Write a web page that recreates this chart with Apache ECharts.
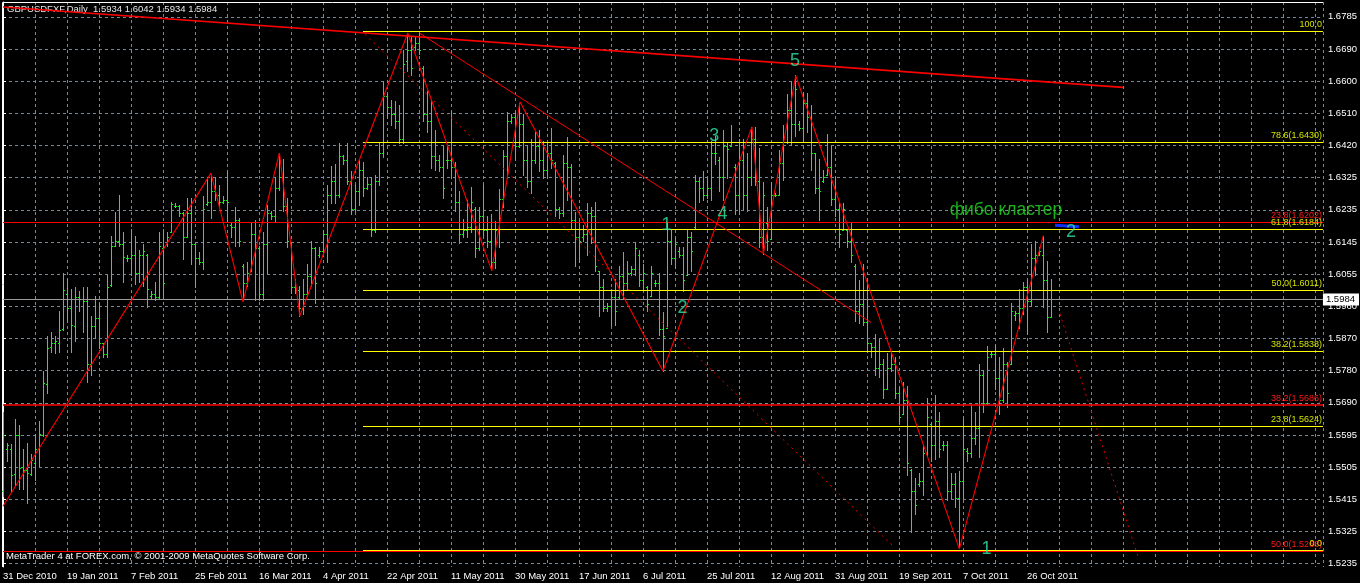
<!DOCTYPE html>
<html><head><meta charset="utf-8">
<script src="https://cdn.jsdelivr.net/npm/echarts@6/dist/echarts.min.js"></script>
<style>html,body{margin:0;padding:0;background:#000;}#c{width:1360px;height:583px;}</style>
</head><body><div id="c"></div>
<script>
// ---------- data ----------
const dateLabels = ['31 Dec 2010','19 Jan 2011','7 Feb 2011','25 Feb 2011','16 Mar 2011','4 Apr 2011','22 Apr 2011','11 May 2011','30 May 2011','17 Jun 2011','6 Jul 2011','25 Jul 2011','12 Aug 2011','31 Aug 2011','19 Sep 2011','7 Oct 2011','26 Oct 2011'];
const priceTickLabels = ['1.5235','1.5325','1.5415','1.5505','1.5595','1.5690','1.5780','1.5870','1.5960','1.6055','1.6145','1.6235','1.6325','1.6420','1.6510','1.6600','1.6690','1.6785'];

const open = [1.5440,1.5560,1.5560,1.5490,1.5600,1.5510,1.5500,1.5490,1.5520,1.5560,1.5600,1.5745,1.5850,1.5860,1.5860,1.5900,1.6000,1.5960,1.5910,1.5990,1.5985,1.5980,1.5800,1.5910,1.5930,1.5860,1.5830,1.6025,1.6135,1.6150,1.6140,1.6100,1.6100,1.6110,1.6060,1.6110,1.6110,1.5995,1.6000,1.5990,1.6130,1.6140,1.6175,1.6250,1.6250,1.6230,1.6160,1.6230,1.6140,1.6100,1.6090,1.6255,1.6260,1.6290,1.6280,1.6260,1.6265,1.6195,1.6190,1.6210,1.6080,1.6030,1.6064,1.6170,1.6130,1.6000,1.6140,
1.6230,1.6220,1.6300,1.6330,1.6250,1.6145,1.6020,1.6010,1.5960,1.6000,1.6050,1.6130,1.6110,1.6120,1.6170,1.6280,1.6320,1.6280,1.6390,1.6380,1.6320,1.6240,1.6290,1.6350,1.6300,1.6310,1.6180,1.6320,1.6400,1.6560,1.6530,1.6510,1.6490,1.6440,1.6660,1.6690,1.6700,1.6710,1.6640,1.6510,1.6490,1.6390,1.6380,1.6360,1.6380,1.6380,1.6360,1.6260,1.6170,1.6180,1.6190,1.6240,1.6130,1.6220,1.6180,1.6150,1.6090,1.6180,1.6270,1.6390,1.6490,1.6500,1.6420,1.6480,1.6380,1.6320,
1.6380,1.6420,1.6380,1.6350,1.6400,1.6370,1.6240,1.6230,1.6370,1.6360,1.6210,1.6160,1.6160,1.6170,1.6230,1.6220,1.6064,1.6020,1.5960,1.5965,1.5990,1.5990,1.6050,1.6030,1.6060,1.6070,1.6110,1.6040,1.6020,1.5993,1.6030,1.6030,1.5900,1.5902,1.6150,1.6100,1.6120,1.6110,1.6054,1.6160,1.6190,1.6320,1.6300,1.6280,1.6300,1.6400,1.6380,1.6330,1.6420,1.6420,1.6360,1.6280,1.6380,1.6280,1.6330,1.6440,1.6320,1.6160,1.6200,1.6155,1.6280,1.6281,1.6370,1.6430,1.6520,1.6480,1.6480,
1.6470,1.6540,1.6500,1.6398,1.6300,1.6320,1.6337,1.6360,1.6270,1.6240,1.6180,1.6180,1.6150,1.6080,1.5950,1.5970,1.5920,1.5860,1.5850,1.5790,1.5800,1.5730,1.5790,1.5800,1.5720,1.5659,1.5700,1.5500,1.5440,1.5460,1.5470,1.5550,1.5630,1.5570,1.5640,1.5570,1.5570,1.5440,1.5460,1.5420,1.5470,1.5555,1.5550,1.5590,1.5620,1.5770,1.5690,1.5830,1.5830,1.5760,1.5700,1.5800,1.5800,1.5940,1.5945,1.5960,1.6020,1.5980,1.6100,1.6110,1.6110,1.6040,1.5934];
const high = [1.5664,1.5578,1.5573,1.5644,1.5629,1.5560,1.5578,1.5547,1.5603,1.5639,1.5780,1.5881,1.5891,1.5881,1.5952,1.6059,1.6043,1.6013,1.6018,1.6008,1.6018,1.6018,1.5937,1.5993,1.5973,1.5861,1.6054,1.6165,1.6231,1.6281,1.6175,1.6109,1.6185,1.6165,1.6124,1.6140,1.6114,1.6008,1.6033,1.6175,1.6185,1.6175,1.6261,1.6256,1.6251,1.6231,1.6271,1.6271,1.6145,1.6119,1.6276,1.6332,1.6337,1.6332,1.6307,1.6276,1.6347,1.6200,1.6246,1.6216,1.6084,1.6089,1.6200,1.6210,1.6135,1.6175,1.6251,
1.6236,1.6332,1.6398,1.6383,1.6271,1.6145,1.6043,1.6023,1.6043,1.6084,1.6150,1.6134,1.6134,1.6180,1.6307,1.6362,1.6367,1.6428,1.6393,1.6428,1.6347,1.6307,1.6383,1.6373,1.6332,1.6332,1.6337,1.6428,1.6600,1.6570,1.6550,1.6545,1.6534,1.6691,1.6740,1.6732,1.6732,1.6740,1.6646,1.6575,1.6545,1.6464,1.6393,1.6418,1.6423,1.6519,1.6373,1.6292,1.6211,1.6266,1.6302,1.6246,1.6246,1.6307,1.6221,1.6226,1.6206,1.6297,1.6408,1.6514,1.6509,1.6514,1.6540,1.6509,1.6423,1.6438,
1.6458,1.6464,1.6433,1.6428,1.6469,1.6373,1.6246,1.6393,1.6443,1.6367,1.6231,1.6206,1.6195,1.6256,1.6246,1.6261,1.6064,1.6043,1.5973,1.6013,1.6043,1.6079,1.6119,1.6094,1.6079,1.6145,1.6124,1.6084,1.6023,1.6079,1.6038,1.6058,1.5947,1.6200,1.6185,1.6160,1.6134,1.6134,1.6185,1.6175,1.6337,1.6332,1.6347,1.6327,1.6433,1.6448,1.6388,1.6464,1.6428,1.6479,1.6367,1.6438,1.6438,1.6398,1.6474,1.6474,1.6413,1.6317,1.6246,1.6317,1.6286,1.6408,1.6479,1.6565,1.6600,1.6620,1.6489,
1.6570,1.6570,1.6534,1.6398,1.6383,1.6352,1.6454,1.6423,1.6332,1.6256,1.6256,1.6185,1.6200,1.6084,1.6038,1.6084,1.6038,1.5861,1.5886,1.5871,1.5816,1.5831,1.5836,1.5821,1.5735,1.5750,1.5740,1.5502,1.5477,1.5492,1.5573,1.5704,1.5633,1.5714,1.5664,1.5583,1.5583,1.5492,1.5492,1.5497,1.5649,1.5563,1.5684,1.5664,1.5800,1.5785,1.5851,1.5836,1.5856,1.5821,1.5846,1.5806,1.5973,1.5952,1.6013,1.6033,1.6043,1.6140,1.6150,1.6134,1.6165,1.6094,1.6042];
const low = [1.5426,1.5527,1.5441,1.5456,1.5446,1.5446,1.5406,1.5487,1.5471,1.5512,1.5598,1.5719,1.5836,1.5831,1.5836,1.5897,1.5922,1.5836,1.5866,1.5952,1.5892,1.5750,1.5770,1.5876,1.5846,1.5821,1.5821,1.6023,1.6135,1.6135,1.6033,1.6094,1.6054,1.6028,1.6033,1.6023,1.5962,1.5988,1.5983,1.5988,1.5988,1.6135,1.6175,1.6246,1.6221,1.6099,1.6160,1.6084,1.6018,1.6084,1.6069,1.6251,1.6216,1.6266,1.6246,1.6256,1.6205,1.6160,1.6135,1.6135,1.5983,1.6023,1.6064,1.5983,1.5983,1.5983,1.6058,
1.6211,1.6206,1.6295,1.6236,1.6134,1.6003,1.6003,1.5937,1.5942,1.5993,1.6023,1.5973,1.6104,1.6114,1.6089,1.6256,1.6256,1.6275,1.6367,1.6312,1.6226,1.6236,1.6251,1.6277,1.6297,1.6165,1.6175,1.6307,1.6388,1.6499,1.6479,1.6469,1.6428,1.6428,1.6631,1.6620,1.6691,1.6681,1.6489,1.6458,1.6357,1.6352,1.6347,1.6271,1.6357,1.6327,1.6236,1.6145,1.6160,1.6160,1.6175,1.6104,1.6125,1.6165,1.6134,1.6069,1.6074,1.6134,1.6246,1.6327,1.6484,1.6378,1.6415,1.6337,1.6302,1.6287,
1.6372,1.6347,1.6327,1.6327,1.6357,1.6221,1.6216,1.6221,1.6266,1.6185,1.6079,1.6089,1.6150,1.6109,1.6145,1.6064,1.5937,1.5952,1.5952,1.5912,1.5912,1.5988,1.5988,1.6013,1.6054,1.6054,1.6023,1.6013,1.5952,1.5993,1.6023,1.5882,1.5780,1.5902,1.6084,1.6074,1.6104,1.6008,1.6054,1.6064,1.6185,1.6261,1.6266,1.6271,1.6266,1.6367,1.6292,1.6266,1.6327,1.6418,1.6226,1.6226,1.6241,1.6236,1.6307,1.6307,1.6134,1.6114,1.6124,1.6155,1.6276,1.6281,1.6322,1.6428,1.6423,1.6448,1.6464,
1.6433,1.6458,1.6352,1.6287,1.6210,1.6317,1.6337,1.6251,1.6221,1.6134,1.6180,1.6134,1.6089,1.5922,1.5917,1.5912,1.5841,1.5821,1.5770,1.5765,1.5704,1.5729,1.5780,1.5704,1.5633,1.5659,1.5486,1.5325,1.5375,1.5456,1.5431,1.5542,1.5527,1.5532,1.5537,1.5557,1.5416,1.5421,1.5396,1.5279,1.5421,1.5527,1.5537,1.5573,1.5537,1.5664,1.5689,1.5821,1.5729,1.5659,1.5694,1.5679,1.5800,1.5927,1.5902,1.5942,1.5886,1.5968,1.6054,1.6109,1.5963,1.5892,1.5934];
const close = [1.5600,1.5570,1.5487,1.5600,1.5507,1.5500,1.5492,1.5530,1.5560,1.5603,1.5747,1.5846,1.5860,1.5865,1.5897,1.6010,1.5960,1.5912,1.5990,1.5985,1.5980,1.5800,1.5910,1.5930,1.5860,1.5830,1.6020,1.6135,1.6150,1.6140,1.6104,1.6100,1.6110,1.6060,1.6110,1.6120,1.6013,1.6000,1.5990,1.6135,1.6030,1.6160,1.6255,1.6250,1.6230,1.6160,1.6230,1.6140,1.6100,1.6090,1.6240,1.6260,1.6290,1.6280,1.6260,1.6265,1.6260,1.6190,1.6210,1.6150,1.6030,1.6060,1.6170,1.6130,1.6000,1.6140,1.6230,
1.6220,1.6300,1.6330,1.6250,1.6150,1.6020,1.6010,1.5960,1.6000,1.6050,1.6130,1.6030,1.6120,1.6170,1.6280,1.6320,1.6280,1.6390,1.6380,1.6320,1.6240,1.6290,1.6350,1.6300,1.6310,1.6180,1.6320,1.6400,1.6560,1.6530,1.6510,1.6490,1.6440,1.6650,1.6690,1.6640,1.6710,1.6690,1.6510,1.6490,1.6390,1.6380,1.6360,1.6300,1.6380,1.6360,1.6260,1.6170,1.6180,1.6190,1.6260,1.6130,1.6220,1.6180,1.6150,1.6090,1.6180,1.6270,1.6390,1.6490,1.6500,1.6420,1.6480,1.6380,1.6320,1.6380,
1.6420,1.6380,1.6350,1.6400,1.6380,1.6240,1.6230,1.6370,1.6360,1.6210,1.6160,1.6150,1.6170,1.6230,1.6220,1.6080,1.6020,1.5960,1.5965,1.5990,1.5950,1.6050,1.6030,1.6060,1.6070,1.6130,1.6040,1.6060,1.5970,1.6060,1.6030,1.5900,1.5880,1.6150,1.6100,1.6140,1.6110,1.6040,1.6160,1.6120,1.6320,1.6300,1.6280,1.6300,1.6400,1.6400,1.6330,1.6420,1.6410,1.6430,1.6280,1.6380,1.6280,1.6330,1.6440,1.6320,1.6160,1.6280,1.6150,1.6280,1.6280,1.6370,1.6430,1.6520,1.6480,1.6580,1.6470,
1.6540,1.6500,1.6400,1.6300,1.6290,1.6330,1.6360,1.6270,1.6240,1.6170,1.6240,1.6150,1.6110,1.5950,1.5970,1.5920,1.5860,1.5850,1.5790,1.5800,1.5730,1.5790,1.5800,1.5720,1.5650,1.5700,1.5520,1.5440,1.5400,1.5470,1.5550,1.5650,1.5570,1.5640,1.5560,1.5570,1.5440,1.5460,1.5420,1.5470,1.5560,1.5550,1.5590,1.5620,1.5770,1.5690,1.5820,1.5830,1.5760,1.5700,1.5800,1.5720,1.5950,1.5945,1.5960,1.6020,1.5980,1.6100,1.6110,1.6120,1.6040,1.5934,1.5984];

const lastPrice = 1.5984;
// Fibonacci retracement (yellow), levels and prices
const fibNames = ['100.0','78.6(1.6430)','61.8(1.6184)','50.0(1.6011)','38.2(1.5838)','23.8(1.5624)','0.0'];
const fibPrices = [1.6745,1.6430,1.6184,1.6011,1.5838,1.5624,1.5274];
const fibStart = 90;
// second Fibonacci (red)
const fib2Names = ['23.8(1.6202)','38.2(1.5686)','50.0(1.5268)'];
const fib2Prices = [1.6202,1.5686,1.5270];
// wave zigzag: bar index / price
const zigIdx = [0,52,60,69.1,74.2,101.2,122.2,129.25,165,187.25,190.1,198.2,239.1,260.1];
const zigPrice = [1.5398,1.6342,1.5977,1.6399,1.5937,1.6739,1.6065,1.6544,1.5781,1.6473,1.6114,1.6618,1.5277,1.6165];
// trend lines [idx1, price1, idx2, price2]
const topTrend = [0,1.6813,280,1.6585];
const midTrend = [104.1,1.6739,217,1.5919];
const dotTrend1 = [90.5,1.6736,222.5,1.5285];
const dotTrend2 = [264.25,1.5943,283.8,1.5254];
const blueMark = [263,1.6194,269,1.6190];
// wave labels
const waveText = ['1','2','3','4','5','2','1'];
const waveIdx = [165.9,169.9,177.8,179.9,198,267,245.9];
const wavePrice = [1.6195,1.5960,1.6446,1.6227,1.6661,1.6175,1.5276];
const noteText = 'фибо кластер';
const noteIdx = 250.75, notePrice = 1.6237;

// ---------- chart ----------
const FONT = 'Liberation Sans';
const yMin = 1.52256, yMax = 1.68270;
const first = +priceTickLabels[0], last = +priceTickLabels[priceTickLabels.length-1];
const yTickPos = priceTickLabels.map((s,k)=> first + k*(last-first)/(priceTickLabels.length-1));
const ohlc = open.map((o,i)=>[i,o,high[i],low[i],close[i]]);

function seg(a, style){
  return {type:'line', data:[[a[0],a[1]],[a[2],a[3]]], symbol:'none', silent:true, z:5,
    lineStyle:style, animation:false};
}

const fibMarks = fibNames.map((n,k)=>[
  {coord:[fibStart,fibPrices[k]], lineStyle:{color:'#ffff00',width:1,type:'solid'},
   label:{show:true, position:'insideEndTop', formatter:n, color:'#d2e400', fontFamily:FONT, fontSize:9, distance:[1,2]}},
  {coord:[330,fibPrices[k]]}
]);
const fib2Width = [1, 1.5, 1];
const fib2Marks = fib2Names.map((n,k)=>[
  {coord:[0,fib2Prices[k]], lineStyle:{color:'#ff0000',width:fib2Width[k],type:'solid'},
   label:{show:true, position:'insideEndTop', formatter:n, color:'#ff1a1a', fontFamily:FONT, fontSize:9, distance:[1,2]}},
  {coord:[330,fib2Prices[k]]}
]);
const priceMark = [[
  {coord:[0,lastPrice], lineStyle:{color:'#9a9a9a',width:1,type:'solid'},
   label:{show:true, position:'end', formatter:lastPrice.toFixed(4), color:'#000', backgroundColor:'#fff',
     fontFamily:FONT, fontSize:9.5, padding:[1,4,1,3], distance:0}},
  {coord:[330,lastPrice]}
]];

const BAR = '#1cf01c';
const chart = echarts.init(document.getElementById('c'), null, {renderer:'canvas'});
chart.setOption({
  backgroundColor:'#000',
  animation:false,
  grid:{left:3, right:37, top:2, bottom:16},
  xAxis:{type:'value', min:0, max:330, interval:8,
    axisLine:{show:false}, axisTick:{show:false},
    splitLine:{show:true, lineStyle:{color:'#778899', type:[3,3], width:1}},
    axisLabel:{color:'#fff', fontFamily:FONT, fontSize:9.5, align:'left', margin:4,
      showMaxLabel:false,
      formatter:v=> (v%16===0 && v/16 < dateLabels.length) ? dateLabels[v/16] : ''}},
  yAxis:{type:'value', position:'right', min:yMin, max:yMax, scale:true,
    axisLine:{show:true, lineStyle:{color:'#fff', width:1}},
    axisTick:{show:true, length:3, lineStyle:{color:'#fff'}, customValues:yTickPos},
    splitLine:{show:true, lineStyle:{color:'#778899', type:[3,3], width:1}},
    axisLabel:{color:'#fff', fontFamily:FONT, fontSize:9.5, margin:5, customValues:yTickPos,
      formatter:v=>{ for(let k=0;k<yTickPos.length;k++){ if(Math.abs(yTickPos[k]-v)<1e-7) return priceTickLabels[k]; } return ''; }}},
  graphic:[
    {type:'polyline', shape:{points:[[2.5,567],[2.5,2.5],[1323,2.5]]}, style:{stroke:'#fff', lineWidth:1, fill:null}, z:1},
    {type:'text', left:7, top:4, style:{text:'GBPUSDFXF,Daily  1.5934 1.6042 1.5934 1.5984', fill:'#e6e6e6', font:'9.5px "Liberation Sans"'}, z:1},
    {type:'text', left:6, top:551, style:{text:'MetaTrader 4 at FOREX.com, © 2001-2009 MetaQuotes Software Corp.', fill:'#fff', font:'9.5px "Liberation Sans"'}, z:20}
  ],
  series:[
    {type:'custom', data:ohlc, encode:{x:0, y:[2,3]}, z:2, silent:true,
      renderItem:(params, api)=>{
        const i = api.value(0);
        const o = api.coord([i, api.value(1)]), h = api.coord([i, api.value(2)]);
        const l = api.coord([i, api.value(3)]), c = api.coord([i, api.value(4)]);
        const px = Math.round(h[0]);
        const yh = Math.round(h[1]), yl = Math.round(l[1]);
        const yo = Math.round(o[1]), yc = Math.round(c[1]);
        const st = {fill:BAR, stroke:null, opacity:1};
        return {type:'group', children:[
          {type:'rect', shape:{x:px, y:yh, width:1, height:Math.max(1, yl-yh+1)}, style:st},
          {type:'rect', shape:{x:px-1, y:yo, width:1, height:1}, style:st},
          {type:'rect', shape:{x:px+1, y:yc, width:1, height:1}, style:st}
        ]};
      },
      markLine:{silent:true, symbol:'none', animation:false, data: fib2Marks.concat(fibMarks).concat(priceMark)}
    },
    seg(topTrend, {color:'#ff0000', width:1.6}),
    seg(midTrend, {color:'#ff0000', width:1}),
    seg(dotTrend1, {color:'#e00000', width:1, type:[2,4]}),
    seg(dotTrend2, {color:'#e00000', width:1, type:[2,4]}),
    seg(blueMark, {color:'#1030ff', width:3}),
    {type:'line', data:zigIdx.map((x,k)=>[x,zigPrice[k]]), symbol:'none', silent:true, z:6,
      lineStyle:{color:'#ff0000', width:1.1}},
    {type:'scatter', symbolSize:1, silent:true, z:8, itemStyle:{color:'rgba(0,0,0,0)'},
      data:waveText.map((t,k)=>({value:[waveIdx[k],wavePrice[k]], name:t})),
      label:{show:true, position:'inside', formatter:p=>p.name, color:'#2ee6a6', fontFamily:FONT, fontSize:18}},
    {type:'scatter', symbolSize:1, silent:true, z:8, itemStyle:{color:'rgba(0,0,0,0)'},
      data:[{value:[noteIdx,notePrice], name:noteText}],
      label:{show:true, position:'inside', formatter:p=>p.name, color:'#22dd22', fontFamily:FONT, fontSize:17.5}}
  ]
});
</script></body></html>
